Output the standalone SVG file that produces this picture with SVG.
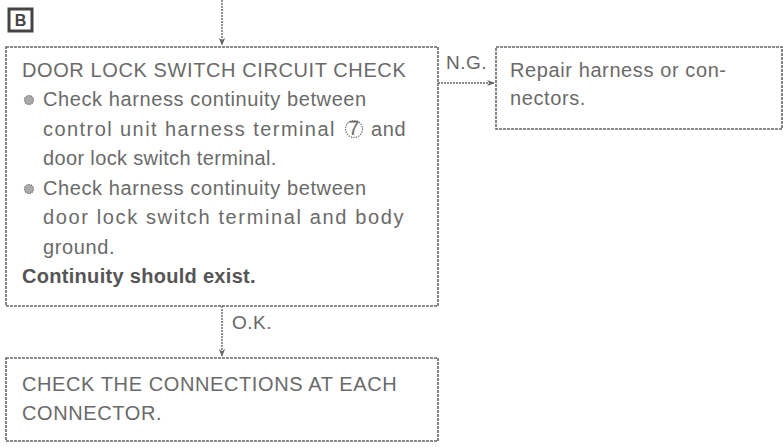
<svg xmlns="http://www.w3.org/2000/svg" width="783" height="447" viewBox="0 0 783 447">
<style>
.box{fill:none;stroke:#666;stroke-width:1.6;stroke-dasharray:3 1}
.ln{fill:none;stroke:#666;stroke-width:1.4;stroke-dasharray:2 1}
.t{font-family:"Liberation Sans",Arial,sans-serif;font-size:20px;fill:#6a6a6a;letter-spacing:0.6px}
.b{font-weight:bold;fill:#555;letter-spacing:0.3px}
.lb{font-family:"Liberation Sans",Arial,sans-serif;font-size:19px;fill:#666;letter-spacing:0.5px}
.bul{fill:#aaa;stroke:#777;stroke-width:1.2;stroke-dasharray:1.5 1}
</style>
<defs>
<marker id="ah" viewBox="0 0 10 10" refX="9" refY="5" markerWidth="8" markerHeight="8" orient="auto" markerUnits="userSpaceOnUse">
<path d="M0,1 L10,5 L0,9 L3,5 Z" fill="#666"/>
</marker>
</defs>
<g id="label-b">
<rect x="9" y="9" width="23" height="22" fill="none" stroke="#444" stroke-width="3"/>
<text x="20.5" y="26" text-anchor="middle" font-family="Liberation Sans,Arial,sans-serif" font-size="16" font-weight="bold" fill="#444">B</text>
</g>
<g id="connectors">
<line class="ln" x1="222" y1="0" x2="222" y2="45" marker-end="url(#ah)"/>
<line class="ln" x1="438" y1="83" x2="494" y2="83" marker-end="url(#ah)"/>
<line class="ln" x1="222" y1="306" x2="222" y2="356" marker-end="url(#ah)"/>
<text class="lb" x="446" y="69">N.G.</text>
<text class="lb" x="232" y="329">O.K.</text>
</g>
<g id="node-check">
<rect class="box" x="6" y="47" width="432" height="259"/>
<text class="t" x="22" y="77">DOOR LOCK SWITCH CIRCUIT CHECK</text>
<circle class="bul" cx="29" cy="100" r="4.5"/>
<text class="t" x="43" y="106">Check harness continuity between</text>
<text class="t" x="43" y="136" textLength="292" lengthAdjust="spacing">control unit harness terminal</text>
<circle cx="354" cy="129" r="8.5" fill="none" stroke="#777" stroke-width="1.2" stroke-dasharray="1.5 1"/>
<text class="t" x="354" y="135" text-anchor="middle" font-size="15" letter-spacing="0">7</text>
<text class="t" x="371" y="136">and</text>
<text class="t" x="43" y="165" textLength="234" lengthAdjust="spacing">door lock switch terminal.</text>
<circle class="bul" cx="29" cy="189" r="4.5"/>
<text class="t" x="43" y="195">Check harness continuity between</text>
<text class="t" x="43" y="224" textLength="361" lengthAdjust="spacing">door lock switch terminal and body</text>
<text class="t" x="43" y="254">ground.</text>
<text class="t b" x="22" y="283">Continuity should exist.</text>
</g>
<g id="node-repair">
<rect class="box" x="496" y="47" width="286" height="82"/>
<text class="t" x="510" y="77">Repair harness or con-</text>
<text class="t" x="510" y="105">nectors.</text>
</g>
<g id="node-connections">
<rect class="box" x="6" y="358" width="432" height="83"/>
<text class="t" x="22" y="391">CHECK THE CONNECTIONS AT EACH</text>
<text class="t" x="22" y="420">CONNECTOR.</text>
</g>
</svg>
